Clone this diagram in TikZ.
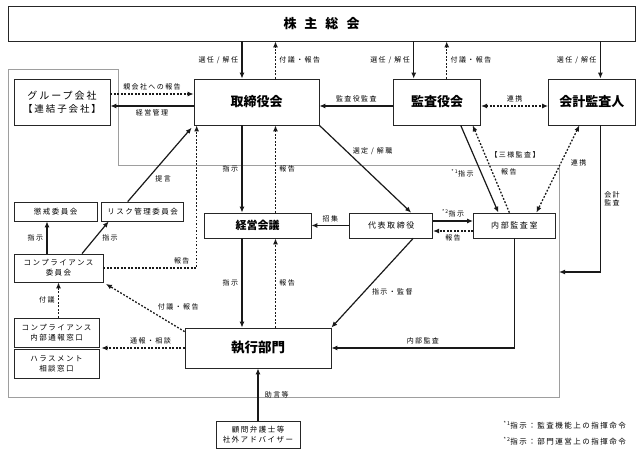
\documentclass[tikz,border=0pt]{standalone}
\usepackage{fontspec}
\setmainfont{Noto Sans CJK JP}
\newfontfamily\jpsp[LetterSpace=20]{Noto Sans CJK JP}
\usetikzlibrary{arrows.meta, positioning, calc}
\def\lblfont{\jpsp\fontsize{7}{8.5}\selectfont}
\def\smfont{\jpsp\fontsize{7.5}{10}\selectfont}
\def\midfont{\jpsp\fontsize{8}{10}\selectfont}
\def\fnfont{\jpsp\fontsize{7.5}{9}\selectfont}
\def\grpfont{\jpsp\fontsize{10}{13}\selectfont}
\def\bigfont{\fontsize{13}{15}\selectfont\bfseries}
\def\keifont{\fontsize{11}{13}\selectfont\bfseries}
\def\shfont{\fontsize{13.5}{15}\selectfont\bfseries}

\begin{document}
\begin{tikzpicture}
	[
	x = 1pt, y = -1pt,
	font = \lblfont,
	box/.style = {rectangle, draw = black!85, line width = 0.7pt, align = center, inner sep = 0pt},
	frame/.style = {draw = black!38, line width = 1pt},
	tip/.style = {
		->,
		>={Latex[width=5pt,length=6pt]},
		line width = 1.2pt, draw = black!90
	},
	dtip/.style = {
		tip,
		line width = 1.3pt,
		dash pattern = on 1.8pt off 1.7pt
	}
	]
	
	\useasboundingbox (0,0) rectangle (642,454);
	\draw[frame] (8,70) -- (118,70) -- (118,166) -- (559,166) -- (559,397) -- (8,397) -- cycle;
	\coordinate (fre) at (559,272);
	
	\node[box, minimum width = 627pt, minimum height = 35pt, font = \bigfont] (soukai) at (321.5,23.5) {株\hspace{8pt}主\hspace{8pt}総\hspace{8pt}会};
	\node[box, minimum width = 125pt, minimum height = 46pt, font = \bigfont] (board) at (256.5,102) {取締役会};
	\node[box, minimum width = 87pt, minimum height = 46pt, font = \bigfont, right = 74pt of board] (kansa) {監査役会};
	\node[box, minimum width = 87pt, minimum height = 46pt, font = \bigfont, right = 67pt of kansa] (audit) {会計監査人};
	\node[box, minimum width = 96pt, minimum height = 46pt, font = \grpfont] (group) at (62,102) {グループ会社\\{\jpsp\fontsize{9.5}{12}\selectfont【連結子会社】}};
	\node[box, minimum width = 107pt, minimum height = 25pt, font = \keifont] (keiei) at (257.5,225.5) {経営会議};
	\node[box, minimum width = 83pt, minimum height = 25pt, font = \midfont, right = 38pt of keiei] (ceo) {代表取締役};
	\node[box, minimum width = 82pt, minimum height = 25pt, font = \midfont, right = 40pt of ceo] (naibu) {内部監査室};
	\node[box, minimum width = 146pt, minimum height = 40pt, font = \shfont] (shikko) at (258,348) {執行部門};
	\node[box, minimum width = 84pt, minimum height = 27pt, font = \smfont] (advisor) at (258,434.5) {顧問弁護士等\\社外アドバイザー};
	\node[box, minimum width = 83pt, minimum height = 19pt, font = \smfont] (choukai) at (55.5,211.5) {懲戒委員会};
	\node[box, minimum width = 82pt, minimum height = 19pt, font = \smfont, right = 4pt of choukai] (risk) {リスク管理委員会};
	\node[box, minimum width = 89pt, minimum height = 28pt, font = \smfont] (comp) at (58.5,268) {コンプライアンス\\委員会};
	\node[box, minimum width = 85pt, minimum height = 29pt, font = \smfont] (tsuho) at (56.5,332.5) {コンプライアンス\\内部通報窓口};
	\node[box, minimum width = 85pt, minimum height = 29pt, font = \smfont, below = 2pt of tsuho] (harass) {ハラスメント\\相談窓口};
	\node (sanyo) at (515,155) {【三様監査】};
	\node[anchor = west, font = \fnfont] (fn1) at (500,425) {\textsuperscript{*1}指示：監査機能上の指揮命令};
	\node[anchor = west, font = \fnfont] (fn2) at (500,441) {\textsuperscript{*2}指示：部門運営上の指揮命令};
	
	\coordinate (s1) at ([xshift = -14.5pt]board.north);
	\coordinate (s2) at ([xshift = 19pt]board.north);
	\coordinate (s3) at ([xshift = -23.5pt]kansa.north);
	\coordinate (s4) at ([xshift = 9.5pt]kansa.north);
	\coordinate (s5) at ([xshift = 8.5pt]audit.north);
	\coordinate (k1) at ([xshift = -14.5pt]board.south);
	\coordinate (k2) at ([xshift = 19pt]board.south);
	\coordinate (c1) at ([xshift = -11.5pt]comp.north);
	
	\draw[tip] (soukai.south -| s1) -- node[left] {選任 / 解任} (s1);
	\draw[dtip] (s2) -- node[right] {付議・報告} (soukai.south -| s2);
	\draw[tip] (soukai.south -| s3) -- node[left] {選任 / 解任} (s3);
	\draw[dtip] (s4) -- node[right] {付議・報告} (soukai.south -| s4);
	\draw[tip] (soukai.south -| s5) -- node[left] {選任 / 解任} (s5);
	\draw[tip] ([yshift = -4pt]kansa.west) -- node[above] {監査役監査} ([yshift = -4pt]board.east);
	\draw[dtip, <->] ([yshift = -4pt]kansa.east) -- node[above] {連携} ([yshift = -4pt]audit.west);
	\draw[dtip] ([yshift = 8pt]group.east) -- node[above] {親会社への報告} ([yshift = 8pt]board.west);
	\draw[tip] ([yshift = -4pt]board.west) -- node[below] {経営管理} ([yshift = -4pt]group.east);
	\draw[tip] (board.south east) -- node[pos = .3, right = 2pt] {選定 / 解職} ([xshift = 20pt]ceo.north);
	\draw[tip] (k1) -- node[left] {指示} (k1 |- keiei.north);
	\draw[dtip] (k2 |- keiei.north) -- node[right] {報告} (k2);
	\draw[tip] (k1 |- keiei.south) -- node[left] {指示} (k1 |- shikko.north);
	\draw[dtip] (k2 |- shikko.north) -- node[right] {報告} (k2 |- keiei.south);
	\draw[tip] (ceo.west) -- node[above] {招集} (keiei.east);
	\draw[tip] ([yshift = 4.5pt]ceo.east) -- node[above] {\textsuperscript{*2}指示} ([yshift = 4.5pt]naibu.west);
	\draw[dtip] ([yshift = -5.5pt]naibu.west) -- node[below] {報告} ([yshift = -5.5pt]ceo.east);
	\draw[tip] ([xshift = 23.5pt]kansa.south) -- node[pos = .55, left = 4pt] {\textsuperscript{*1}指示} ([xshift = -16pt]naibu.north);
	\draw[dtip] ([xshift = -5pt]naibu.north) -- node[pos = .47, right = 5pt] {報告} ([xshift = 35.5pt]kansa.south);
	\draw[dtip, <->] ([xshift = -12.5pt]audit.south) -- node[pos = .43, right = 6pt] {連携} ([xshift = 22pt]naibu.north);
	\draw[tip] (audit.south -| s5) |- node[pos = .25, right, align = left] {会計\\監査} (fre);
	\draw[tip] (naibu.south) |- node[pos = .75, above] {内部監査} (shikko.east);
	\draw[tip] ([xshift = 22pt]ceo.south) -- node[pos = .6, right = 4pt] {指示・監督} (shikko.north east);
	\draw[dtip, shorten > = 2pt] (shikko.west) -- node[pos = .4, above] {通報・相談} (shikko.west -| tsuho.east);
	\draw[dtip, shorten > = 3pt] ([yshift = -4pt]shikko.north west) -- node[pos = .5, right = 10pt] {付議・報告} (comp.south east);
	\draw[dtip] (tsuho.north -| comp.south) -- node[left] {付議} (comp.south);
	\draw[tip] (c1) -- node[left] {指示} (c1 |- choukai.south);
	\draw[tip] ([xshift = 23.5pt]comp.north) -- node[right = 3pt] {指示} ([xshift = -34pt]risk.south);
	\draw[tip, shorten > = 3pt] ([xshift = -15pt]risk.north) -- node[pos = .3, right = 4pt] {提言} (board.south west);
	\draw[dtip] (comp.east) -| node[pos = .42, above] {報告} ([xshift = 3pt]board.south west);
	\draw[tip] (advisor.north) -- node[right = 3pt] {助言等} (shikko.south);
\end{tikzpicture}
\end{document}
